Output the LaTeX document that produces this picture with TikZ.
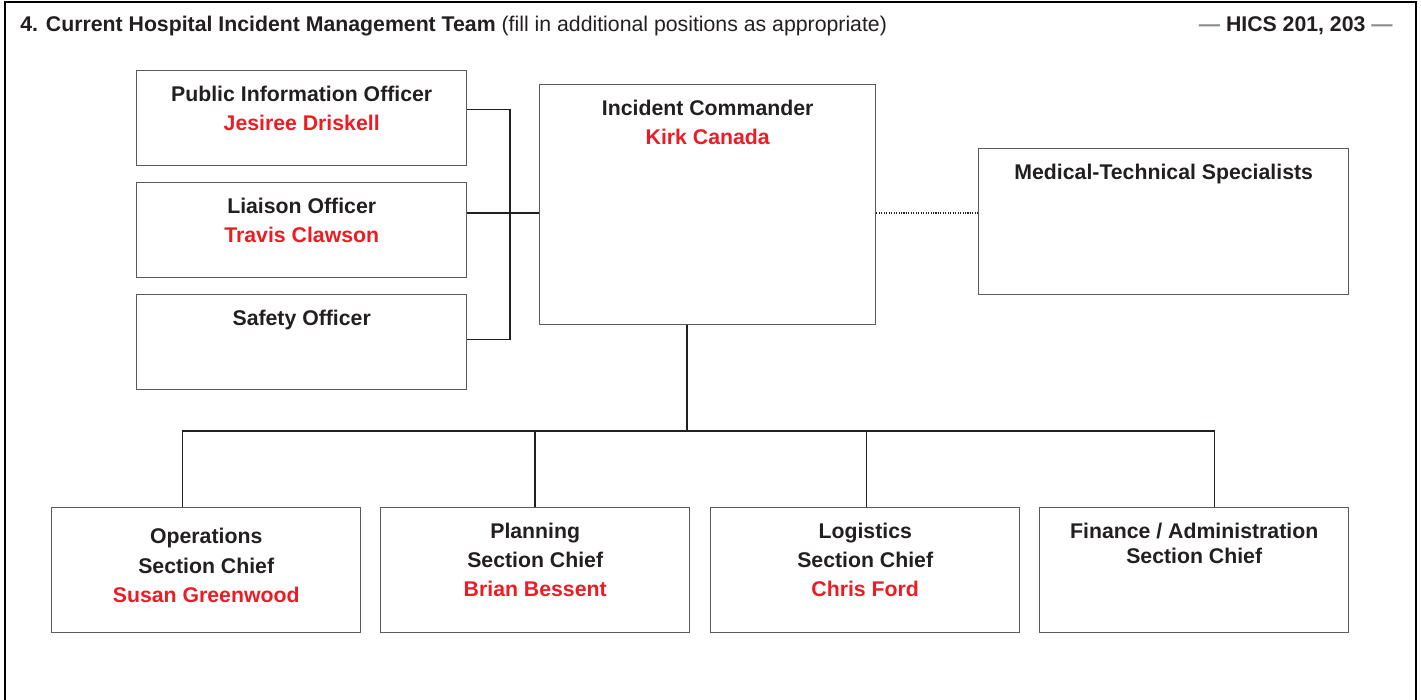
\documentclass[tikz,border=0pt]{standalone}
\usepackage{fontspec}
\setmainfont{Liberation Sans}
\usetikzlibrary{positioning}

\definecolor{formtext}{HTML}{231F20}
\definecolor{namered}{HTML}{ED1C24}
\definecolor{rulegray}{HTML}{5A5A5A}
\definecolor{dashgray}{HTML}{8C8C8C}

\tikzset{
  box/.style={draw=rulegray, line width=0.8pt, anchor=north west, inner sep=0pt},
  officer/.style={box, minimum width=66mm, minimum height=19mm},
  chief/.style={box, minimum width=61.8mm, minimum height=25mm},
  head/.style={font=\bfseries\fontsize{12.1}{16.7}\selectfont, text=formtext,
    align=center, inner sep=0pt, anchor=north},
  link/.style={draw=formtext, line width=0.85pt},
  frame/.style={draw=black, line width=1.6pt},
}
\newcommand{\who}[1]{\\\textcolor{namered}{#1}}

\begin{document}
\begin{tikzpicture}[x=0.2mm,y=-0.2mm]
\useasboundingbox (0,0) rectangle (1421,700);

% form frame, open at the bottom
\draw[frame] (5,700) -- (5,2) -- (1416,2) -- (1416,700);

\node[anchor=base west, inner sep=0pt, text=formtext, font=\fontsize{12.1}{14}\selectfont] (title) at (20,32)
  {\textbf{4. Current Hospital Incident Management Team} (fill in additional positions as appropriate)};
\node[anchor=base east, inner sep=0pt, text=formtext, font=\bfseries\fontsize{12.1}{14}\selectfont] (formref) at (1393,32)
  {\textcolor{dashgray}{---} HICS 201, 203 \textcolor{dashgray}{---}};

% command staff
\node[officer] (pio) at (136,70) {};
\node[officer] (lia) at (136,182) {};
\node[officer] (saf) at (136,294) {};
\node[box, minimum width=67.2mm, minimum height=48mm] (ic) at (539,84) {};
\node[box, minimum width=74mm, minimum height=29.2mm] (med) at (978,148) {};

\node[head, below=3.1mm of pio.north] (pio-t) {Public Information Officer\who{Jesiree Driskell}};
\node[head, below=3.1mm of lia.north] (lia-t) {Liaison Officer\who{Travis Clawson}};
\node[head, below=3.1mm of saf.north] (saf-t) {Safety Officer};
\node[head, below=3.1mm of ic.north] (ic-t) {Incident Commander\who{Kirk Canada}};
\node[head, below=3.1mm of med.north] (med-t) {Medical-Technical Specialists};

% general staff
\node[chief] (ops) at (51,507) {};
\node[chief] (plan) at (380,507) {};
\node[chief] (log) at (710,507) {};
\node[chief] (fin) at (1039,507) {};

\node[head, below=4.2mm of ops.north] (ops-t) {Operations\\Section Chief\who{Susan Greenwood}};
\node[head, below=3.1mm of plan.north] (plan-t) {Planning\\Section Chief\who{Brian Bessent}};
\node[head, below=3.1mm of log.north] (log-t) {Logistics\\Section Chief\who{Chris Ford}};
\node[head, below=3.1mm of fin.north] (fin-t) {Finance / Administration\\[-2.2pt]Section Chief};

% connectors
\coordinate (brk) at (510,213);
\coordinate (hub) at (687,431);
\coordinate (ops-in) at ([xshift=-4.7mm]ops.north);
\coordinate (fin-in) at ([xshift=4.1mm]fin.north);

\draw[link] ([yshift=1.7mm]pio.east) -| (brk) |- ([yshift=0.5mm]saf.east);
\draw[link] (lia.east |- brk) -- (ic.west |- brk);
\draw[link, line width=0.6pt, dash pattern=on 0.6pt off 0.8pt] (ic.east |- brk) -- (med.west |- brk);
\draw[link] (ic.south -| hub) -- (hub);
\draw[link] (ops-in) |- (fin-in |- hub) -- (fin-in);
\draw[link] (plan.north) -- (plan.north |- hub);
\draw[link] ([xshift=0.3mm]log.north) -- ([xshift=0.3mm]log.north |- hub);
\end{tikzpicture}
\end{document}
